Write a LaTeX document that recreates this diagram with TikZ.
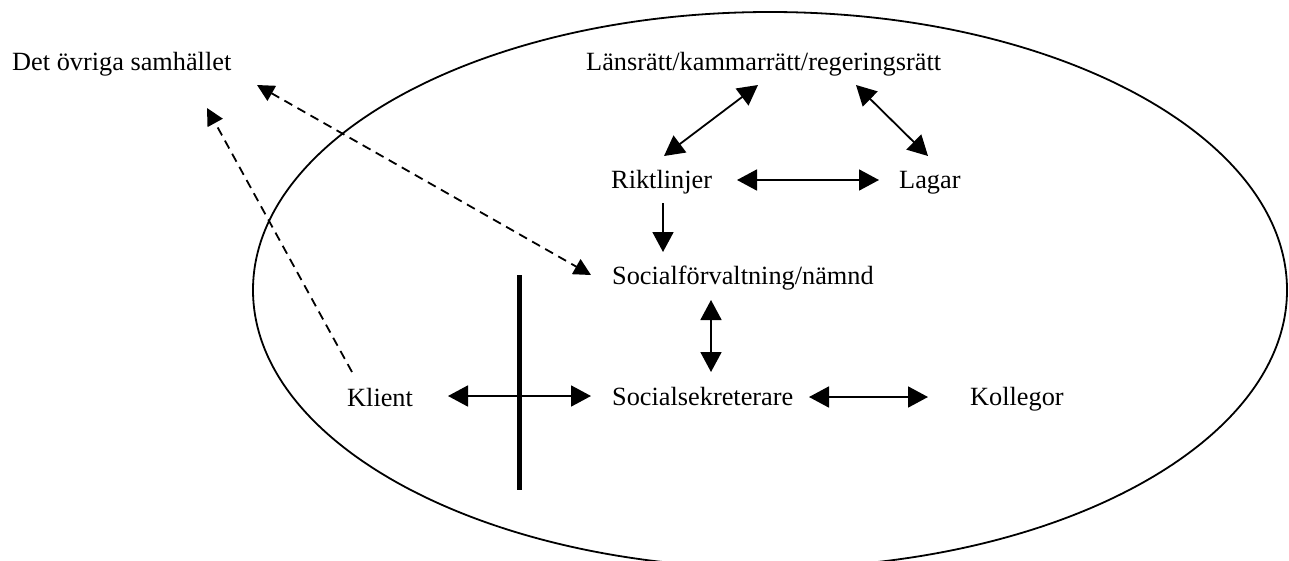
\documentclass[tikz,border=0pt]{standalone}
\usepackage{fontspec}
\setmainfont{Liberation Serif}
\usetikzlibrary{arrows.meta,calc}
\tikzset{
  lbl/.style={anchor=base west,inner sep=0pt,font=\fontsize{26.3}{30}\selectfont},
  conn/.style={line width=1.8pt},
  bi/.style={conn,{Triangle[length=20pt,width=21pt]}-{Triangle[length=20pt,width=21pt]}},
  uni/.style={conn,-{Triangle[length=20pt,width=21pt]}},
  dbi/.style={conn,dash pattern=on 9pt off 6pt,{Triangle[length=17pt,width=17pt]}-{Triangle[length=17pt,width=17pt]}},
  duni/.style={conn,dash pattern=on 9pt off 6pt,-{Triangle[length=17pt,width=17pt]}},
}
\begin{document}
\begin{tikzpicture}[x=1pt,y=-1pt]
\useasboundingbox (0,0) rectangle (1289,560);
\clip (0,0) rectangle (1289,560);
\draw[line width=1.8pt] (770,290) ellipse [x radius=517, y radius=278];
\node[lbl] (soc) at (12,70) {Det övriga samhället};
\node[lbl] (lans) at (586,70) {Länsrätt/kammarrätt/regeringsrätt};
\node[lbl] (rikt) at (611,188) {Riktlinjer};
\node[lbl] (lagar) at (899,188) {Lagar};
\node[lbl] (forv) at (612,284) {Socialförvaltning/nämnd};
\node[lbl] (klient) at (347,406) {Klient};
\node[lbl] (sekr) at (612,405) {Socialsekreterare};
\node[lbl] (koll) at (970,405) {Kollegor};
\draw[bi] ($(lans.base west)+(172,15)$) -- ($(rikt.base west)+(53,-32)$);
\draw[bi] ($(lans.base west)+(270,15)$) -- ($(lagar.base west)+(29,-32)$);
\draw[bi] ($(rikt.base west)+(126,-8)$) -- ($(lagar.base west)+(-20,-8)$);
\draw[uni] ($(rikt.base west)+(52,15)$) -- ($(forv.base west)+(51,-32)$);
\draw[dbi] ($(soc.base west)+(245,15)$) -- ($(forv.base west)+(-21,-9)$);
\draw[duni] ($(klient.base west)+(5,-34)$) -- ($(soc.base west)+(195,38)$);
\draw[bi] ($(forv.base west)+(99,16)$) -- ($(sekr.base west)+(99,-33)$);
\draw[bi] ($(klient.base west)+(101,-10)$) -- ($(sekr.base west)+(-21,-9)$);
\draw[bi] ($(sekr.base west)+(197,-8)$) -- ($(koll.base west)+(-42,-8)$);
\draw[line width=5pt] (519,275) -- (519,490);
\end{tikzpicture}
\end{document}
